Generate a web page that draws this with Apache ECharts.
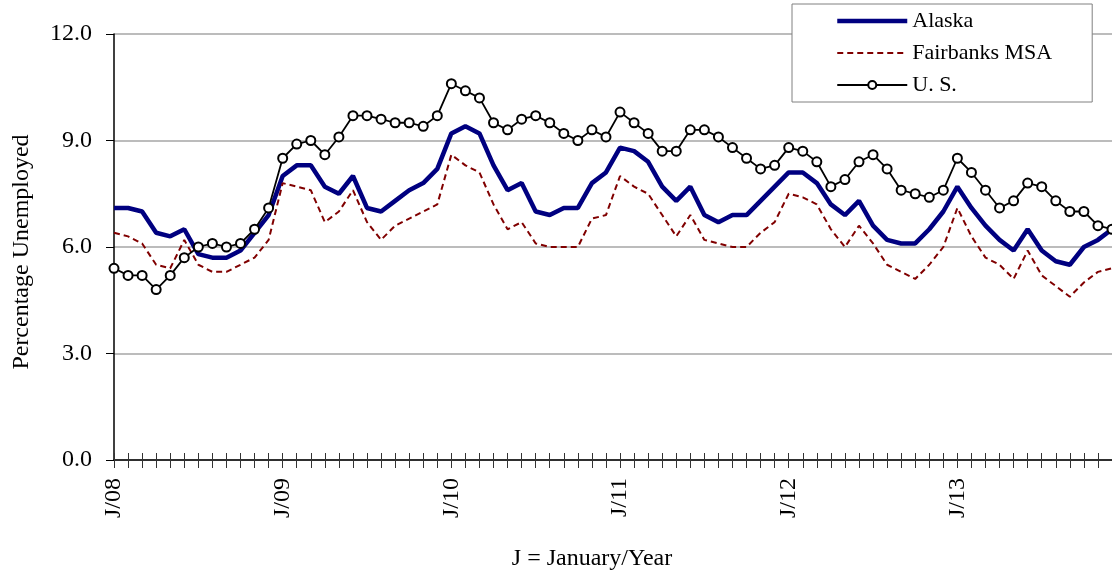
<!DOCTYPE html>
<html>
<head>
<meta charset="utf-8">
<script src="https://cdn.jsdelivr.net/npm/echarts@6/dist/echarts.min.js"></script>
<style>
html,body{margin:0;padding:0;background:#fff;}
#main{width:1112px;height:578px;}
</style>
</head>
<body>
<div id="main"></div>
<script>
var monthLetters = ['J','F','M','A','M','J','J','A','S','O','N','D'];
var years = ['08','09','10','11','12','13'];
var yTicks = [0, 3, 6, 9, 12];

var alaska = [
  7.1, 7.1, 7.0, 6.4, 6.3, 6.5, 5.8, 5.7, 5.7, 5.9, 6.4, 6.9,
  8.0, 8.3, 8.3, 7.7, 7.5, 8.0, 7.1, 7.0, 7.3, 7.6, 7.8, 8.2,
  9.2, 9.4, 9.2, 8.3, 7.6, 7.8, 7.0, 6.9, 7.1, 7.1, 7.8, 8.1,
  8.8, 8.7, 8.4, 7.7, 7.3, 7.7, 6.9, 6.7, 6.9, 6.9, 7.3, 7.7,
  8.1, 8.1, 7.8, 7.2, 6.9, 7.3, 6.6, 6.2, 6.1, 6.1, 6.5, 7.0,
  7.7, 7.1, 6.6, 6.2, 5.9, 6.5, 5.9, 5.6, 5.5, 6.0, 6.2, 6.5
];
var fairbanks = [
  6.4, 6.3, 6.1, 5.5, 5.4, 6.2, 5.5, 5.3, 5.3, 5.5, 5.7, 6.2,
  7.8, 7.7, 7.6, 6.7, 7.0, 7.6, 6.7, 6.2, 6.6, 6.8, 7.0, 7.2,
  8.6, 8.3, 8.1, 7.2, 6.5, 6.7, 6.1, 6.0, 6.0, 6.0, 6.8, 6.9,
  8.0, 7.7, 7.5, 6.9, 6.3, 6.9, 6.2, 6.1, 6.0, 6.0, 6.4, 6.7,
  7.5, 7.4, 7.2, 6.5, 6.0, 6.6, 6.1, 5.5, 5.3, 5.1, 5.5, 6.0,
  7.1, 6.3, 5.7, 5.5, 5.1, 5.9, 5.2, 4.9, 4.6, 5.0, 5.3, 5.4
];
var us = [
  5.4, 5.2, 5.2, 4.8, 5.2, 5.7, 6.0, 6.1, 6.0, 6.1, 6.5, 7.1,
  8.5, 8.9, 9.0, 8.6, 9.1, 9.7, 9.7, 9.6, 9.5, 9.5, 9.4, 9.7,
  10.6, 10.4, 10.2, 9.5, 9.3, 9.6, 9.7, 9.5, 9.2, 9.0, 9.3, 9.1,
  9.8, 9.5, 9.2, 8.7, 8.7, 9.3, 9.3, 9.1, 8.8, 8.5, 8.2, 8.3,
  8.8, 8.7, 8.4, 7.7, 7.9, 8.4, 8.6, 8.2, 7.6, 7.5, 7.4, 7.6,
  8.5, 8.1, 7.6, 7.1, 7.3, 7.8, 7.7, 7.3, 7.0, 7.0, 6.6, 6.5
];

var categories = [];
years.forEach(function (y) {
  monthLetters.forEach(function (m) { categories.push(m + '/' + y); });
});

var FONT = '"Liberation Serif", "Times New Roman", serif';
var hiddenSymbol = { color: 'transparent', borderColor: 'transparent', borderWidth: 0, opacity: 0 };
var chart = echarts.init(document.getElementById('main'));
chart.setOption({
  animation: false,
  backgroundColor: '#ffffff',
  textStyle: { fontFamily: FONT, color: '#000' },
  grid: { left: 114, right: -5, top: 34, bottom: 118, containLabel: false },
  legend: {
    orient: 'vertical',
    left: 792,
    top: 4,
    padding: [6, 40, 6, 43],
    itemGap: 10,
    itemWidth: 70,
    itemHeight: 10,
    backgroundColor: '#ffffff',
    borderColor: '#808080',
    borderWidth: 1,
    textStyle: { fontFamily: FONT, fontSize: 22, color: '#000' },
    data: [
      { name: 'Alaska', itemStyle: hiddenSymbol, lineStyle: { color: '#000080', width: 4.5 } },
      { name: 'Fairbanks MSA', itemStyle: hiddenSymbol, lineStyle: { color: '#800000', width: 2, type: [6, 4] } },
      { name: 'U. S.', lineStyle: { color: '#000', width: 2 } }
    ]
  },
  xAxis: [{
    type: 'category',
    data: categories,
    boundaryGap: false,
    axisLine: { lineStyle: { color: '#000', width: 1.5 } },
    axisTick: { show: true, interval: 0, length: 8, lineStyle: { color: '#333', width: 1 } },
    axisLabel: {
      interval: function (i) { return i % 12 === 0; },
      rotate: 90,
      margin: 18,
      fontFamily: FONT,
      fontSize: 24,
      color: '#000'
    },
    splitLine: { show: false }
  }, {
    type: 'category',
    data: categories,
    boundaryGap: false,
    position: 'bottom',
    axisLine: { show: false },
    axisTick: { show: true, inside: true, interval: 0, length: 7, lineStyle: { color: '#333', width: 1 } },
    axisLabel: { show: false },
    splitLine: { show: false }
  }],
  yAxis: {
    type: 'value',
    min: yTicks[0],
    max: yTicks[yTicks.length - 1],
    interval: 3,
    axisLine: { show: true, lineStyle: { color: '#000', width: 1.5 } },
    axisTick: { show: true, length: 8, lineStyle: { color: '#000', width: 1 } },
    axisLabel: {
      margin: 22,
      fontFamily: FONT,
      fontSize: 24,
      color: '#000',
      formatter: function (v) { return v.toFixed(1); }
    },
    splitLine: { show: true, lineStyle: { color: '#a6a6a6', width: 1.5 } }
  },
  graphic: [{
    type: 'text',
    x: 22, y: 252,
    rotation: Math.PI / 2,
    style: {
      text: 'Percentage Unemployed',
      fontFamily: FONT, fontSize: 24, fill: '#000',
      textAlign: 'center', textVerticalAlign: 'middle'
    }
  }, {
    type: 'text',
    x: 592, y: 559,
    style: {
      text: 'J = January/Year',
      fontFamily: FONT, fontSize: 24, fill: '#000',
      textAlign: 'center', textVerticalAlign: 'middle'
    }
  }],
  series: [{
    name: 'Alaska',
    type: 'line',
    data: alaska,
    showSymbol: false,
    symbol: 'none',
    lineStyle: { color: '#000080', width: 4.5 },
    itemStyle: { color: '#000080' },
    z: 2
  }, {
    name: 'Fairbanks MSA',
    type: 'line',
    data: fairbanks,
    symbol: 'none',
    lineStyle: { color: '#800000', width: 2, type: [6, 4] },
    itemStyle: { color: '#800000' },
    z: 3
  }, {
    name: 'U. S.',
    type: 'line',
    data: us,
    symbol: 'emptyCircle',
    symbolSize: 9,
    lineStyle: { color: '#000', width: 1.8 },
    itemStyle: { color: '#000', borderColor: '#000', borderWidth: 1.5 },
    z: 4
  }]
});
</script>
</body>
</html>
